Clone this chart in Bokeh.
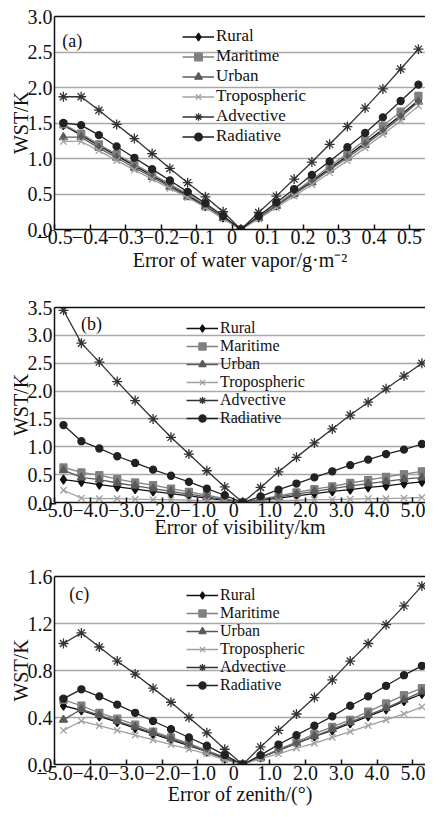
from bokeh.plotting import figure
from bokeh.layouts import column
from bokeh.models import Range1d, FixedTicker, LinearAxis, Label
from bokeh.embed import file_html
from bokeh.resources import INLINE

# ---------------- data ----------------
series_names = ["Rural", "Maritime", "Urban", "Tropospheric", "Advective", "Radiative"]

# panel (a): error of water vapor
xa = [-0.475, -0.425, -0.375, -0.325, -0.275, -0.225, -0.175, -0.125, -0.075, -0.025,
      0.025, 0.075, 0.125, 0.175, 0.225, 0.275, 0.325, 0.375, 0.425, 0.475, 0.525]
a_rural = [1.47, 1.33, 1.18, 1.04, 0.90, 0.76, 0.62, 0.48, 0.33, 0.17, 0.0,
           0.17, 0.34, 0.51, 0.68, 0.86, 1.04, 1.22, 1.41, 1.61, 1.82]
a_maritime = [1.48, 1.35, 1.20, 1.06, 0.92, 0.78, 0.64, 0.50, 0.35, 0.18, 0.0,
              0.18, 0.35, 0.53, 0.70, 0.89, 1.07, 1.26, 1.46, 1.66, 1.88]
a_urban = [1.30, 1.30, 1.15, 1.01, 0.87, 0.74, 0.60, 0.46, 0.32, 0.16, 0.0,
           0.16, 0.33, 0.50, 0.66, 0.84, 1.01, 1.19, 1.38, 1.58, 1.80]
a_tropo = [1.24, 1.24, 1.11, 0.97, 0.84, 0.71, 0.58, 0.45, 0.31, 0.15, 0.0,
           0.15, 0.31, 0.47, 0.63, 0.80, 0.97, 1.15, 1.34, 1.53, 1.74]
a_advec = [1.87, 1.87, 1.68, 1.48, 1.28, 1.07, 0.86, 0.66, 0.46, 0.25, 0.0,
           0.24, 0.47, 0.71, 0.95, 1.20, 1.45, 1.71, 1.98, 2.26, 2.54]
a_radia = [1.50, 1.47, 1.33, 1.17, 1.01, 0.85, 0.69, 0.53, 0.37, 0.19, 0.0,
           0.19, 0.38, 0.57, 0.77, 0.96, 1.16, 1.36, 1.58, 1.81, 2.04]

# panels (b), (c): error of visibility / zenith
xbc = [-4.75, -4.25, -3.75, -3.25, -2.75, -2.25, -1.75, -1.25, -0.75, -0.25,
       0.25, 0.75, 1.25, 1.75, 2.25, 2.75, 3.25, 3.75, 4.25, 4.75, 5.25]
b_rural = [0.41, 0.37, 0.32, 0.28, 0.24, 0.20, 0.16, 0.12, 0.08, 0.04, 0.0,
           0.04, 0.08, 0.12, 0.16, 0.20, 0.23, 0.27, 0.30, 0.34, 0.37]
b_maritime = [0.63, 0.54, 0.49, 0.42, 0.36, 0.31, 0.25, 0.19, 0.13, 0.07, 0.0,
              0.06, 0.12, 0.18, 0.24, 0.29, 0.35, 0.40, 0.46, 0.51, 0.56]
b_urban = [0.58, 0.45, 0.41, 0.35, 0.30, 0.25, 0.20, 0.15, 0.10, 0.05, 0.0,
           0.05, 0.10, 0.15, 0.20, 0.25, 0.30, 0.34, 0.38, 0.42, 0.45]
b_tropo = [0.22, 0.08, 0.07, 0.07, 0.06, 0.05, 0.05, 0.04, 0.03, 0.02, 0.0,
           0.02, 0.03, 0.04, 0.05, 0.05, 0.06, 0.07, 0.07, 0.08, 0.09]
b_advec = [3.45, 2.86, 2.52, 2.17, 1.83, 1.50, 1.17, 0.87, 0.57, 0.28, 0.0,
           0.27, 0.55, 0.81, 1.07, 1.32, 1.57, 1.80, 2.04, 2.27, 2.50]
b_radia = [1.39, 1.10, 0.97, 0.83, 0.71, 0.59, 0.48, 0.37, 0.25, 0.13, 0.0,
           0.11, 0.23, 0.34, 0.45, 0.56, 0.67, 0.77, 0.87, 0.95, 1.05]

c_rural = [0.50, 0.46, 0.41, 0.36, 0.31, 0.26, 0.21, 0.16, 0.11, 0.05, 0.0,
           0.06, 0.12, 0.18, 0.24, 0.29, 0.35, 0.41, 0.47, 0.54, 0.60]
c_maritime = [0.55, 0.50, 0.44, 0.39, 0.34, 0.28, 0.23, 0.18, 0.12, 0.06, 0.0,
              0.06, 0.13, 0.19, 0.26, 0.32, 0.38, 0.45, 0.52, 0.59, 0.65]
c_urban = [0.38, 0.47, 0.42, 0.37, 0.32, 0.27, 0.22, 0.17, 0.11, 0.06, 0.0,
           0.06, 0.12, 0.18, 0.24, 0.30, 0.36, 0.42, 0.48, 0.55, 0.62]
c_tropo = [0.29, 0.37, 0.33, 0.29, 0.25, 0.21, 0.17, 0.13, 0.09, 0.04, 0.0,
           0.05, 0.09, 0.14, 0.18, 0.23, 0.28, 0.33, 0.38, 0.43, 0.49]
c_advec = [1.03, 1.12, 1.00, 0.88, 0.77, 0.65, 0.53, 0.40, 0.27, 0.13, 0.0,
           0.15, 0.29, 0.43, 0.57, 0.72, 0.88, 1.03, 1.19, 1.35, 1.52]
c_radia = [0.56, 0.64, 0.58, 0.51, 0.44, 0.37, 0.30, 0.23, 0.16, 0.08, 0.0,
           0.08, 0.17, 0.25, 0.33, 0.41, 0.50, 0.58, 0.67, 0.76, 0.84]

xa_ticks = [-0.5, -0.4, -0.3, -0.2, -0.1, 0.0, 0.1, 0.2, 0.3, 0.4, 0.5]
xa_labels = ["\u22120.5", "\u22120.4", "\u22120.3", "\u22120.2", "\u22120.1", "0",
             "0.1", "0.2", "0.3", "0.4", "0.5"]
xbc_ticks = [-5, -4, -3, -2, -1, 0, 1, 2, 3, 4, 5]
xbc_labels = ["\u22125.0", "\u22124.0", "\u22123.0", "\u22122.0", "\u22121.0", "0",
              "1.0", "2.0", "3.0", "4.0", "5.0"]
ya_ticks = [0.0, 0.5, 1.0, 1.5, 2.0, 2.5, 3.0]
yb_ticks = [0.0, 0.5, 1.0, 1.5, 2.0, 2.5, 3.0, 3.5]
yc_ticks = [0.0, 0.4, 0.8, 1.2, 1.6]

# ---------------- styles ----------------
FONT = "Liberation Serif"
styles = {
    "Rural": dict(color="#111111", marker="diamond", size=9),
    "Maritime": dict(color="#808080", marker="square", size=7),
    "Urban": dict(color="#5a5a5a", marker="triangle", size=8),
    "Tropospheric": dict(color="#a0a0a0", marker="x", size=9),
    "Advective": dict(color="#333333", marker="asterisk", size=10),
    "Radiative": dict(color="#222222", marker="circle", size=7),
}


def make_panel(x, ys, xr, yr, xticks, xlabels, yticks, ylabels, xtitle, tag, tagpos,
               height, btop, bbot, legend_loc, leg_font, leg_row,
               tick_standoff, label_standoff):
    p = figure(width=425, height=height, output_backend="svg", toolbar_location=None,
               x_range=Range1d(*xr), y_range=Range1d(*yr),
               min_border_left=54, min_border_right=0, min_border_top=btop,
               min_border_bottom=bbot)
    p.outline_line_color = None
    p.background_fill_color = "white"
    p.xgrid.visible = False
    p.ygrid.ticker = FixedTicker(ticks=yticks)
    p.ygrid.grid_line_color = "#a8a8a8"
    p.ygrid.grid_line_width = 1.5

    for name, y in zip(series_names, ys):
        st = styles[name]
        p.line(x, y, line_color=st["color"], line_width=1.3, legend_label=name)
        p.scatter(x, y, marker=st["marker"], size=st["size"], line_color=st["color"],
                  fill_color=st["color"], line_width=1.3, legend_label=name)

    xa_ = p.xaxis[0]
    xa_.ticker = FixedTicker(ticks=xticks)
    xa_.major_label_overrides = {t: l for t, l in zip(xticks, xlabels)}
    xa_.major_tick_in = 5
    xa_.major_tick_out = 0
    xa_.minor_tick_line_color = None
    xa_.axis_line_width = 1.5
    xa_.axis_line_color = "#111111"
    xa_.major_tick_line_width = 1.5
    xa_.major_tick_line_color = "#111111"
    xa_.major_label_text_font = FONT
    xa_.major_label_text_font_size = "20px"
    xa_.major_label_text_color = "#111111"
    xa_.major_label_standoff = tick_standoff
    xa_.axis_label = xtitle
    xa_.axis_label_text_font = FONT
    xa_.axis_label_text_font_size = "20px"
    xa_.axis_label_text_font_style = "normal"
    xa_.axis_label_text_color = "#111111"
    xa_.axis_label_standoff = label_standoff

    ya_ = p.yaxis[0]
    ya_.ticker = FixedTicker(ticks=yticks)
    ya_.major_label_overrides = {t: l for t, l in zip(yticks, ylabels)}
    ya_.major_tick_in = 0
    ya_.major_tick_out = 0
    ya_.minor_tick_line_color = None
    ya_.axis_line_width = 1.5
    ya_.axis_line_color = "#111111"
    ya_.major_label_text_font = FONT
    ya_.major_label_text_font_size = "20px"
    ya_.major_label_text_color = "#111111"
    ya_.major_label_standoff = 2
    ya_.axis_label = "WST/K"
    ya_.axis_label_text_font = FONT
    ya_.axis_label_text_font_size = "20px"
    ya_.axis_label_text_font_style = "normal"
    ya_.axis_label_text_color = "#111111"
    ya_.axis_label_standoff = -7

    top = LinearAxis(ticker=FixedTicker(ticks=[]), major_tick_in=0, major_tick_out=0,
                     minor_tick_in=0, minor_tick_out=0, major_label_text_font_size="0px",
                     axis_line_color="#111111", axis_line_width=1.5)
    p.add_layout(top, "above")

    p.add_layout(Label(x=tagpos[0], y=tagpos[1], text=tag, text_font=FONT,
                       text_font_size="18px", text_color="#111111",
                       text_baseline="middle", text_align="left"))

    lg = p.legend[0]
    lg.location = legend_loc
    lg.border_line_color = None
    lg.background_fill_alpha = 0
    lg.label_text_font = FONT
    lg.label_text_font_size = leg_font
    lg.label_text_color = "#111111"
    lg.glyph_width = 32
    lg.glyph_height = leg_row
    lg.label_height = leg_row
    lg.spacing = 0
    lg.padding = 0
    lg.margin = 0
    lg.label_standoff = 2
    return p


pa = make_panel(xa, [a_rural, a_maritime, a_urban, a_tropo, a_advec, a_radia],
                (-0.5, 0.545), (0.0, 3.0), xa_ticks, xa_labels,
                ya_ticks, ["0.0", "0.5", "1.0", "1.5", "2.0", "2.5", "3.0"],
                "Error of water vapor/g\u00b7m\u207b\u00b2", "(a)", (-0.478, 2.65),
                273, 16, 44, (128, 83), "17px", 19, 0, 2)
pb = make_panel(xbc, [b_rural, b_maritime, b_urban, b_tropo, b_advec, b_radia],
                (-5.0, 5.35), (0.0, 3.5), xbc_ticks, xbc_labels,
                yb_ticks, ["0.0", "0.5", "1.0", "1.5", "2.0", "2.5", "3.0", "3.5"],
                "Error of visibility/km", "(b)", (-4.26, 3.2),
                267, 34, 36, (132, 75), "16px", 18, 0, -4)
pc = make_panel(xbc, [c_rural, c_maritime, c_urban, c_tropo, c_advec, c_radia],
                (-5.0, 5.35), (0.0, 1.6), xbc_ticks, xbc_labels,
                yc_ticks, ["0.0", "0.4", "0.8", "1.2", "1.6"],
                "Error of zenith/(\u00b0)", "(c)", (-4.59, 1.45),
                267, 36, 41, (132, 70), "16px", 18, 1, 0)

layout = column(pa, pb, pc, spacing=0)
open("out.html", "w").write(file_html(layout, INLINE))
